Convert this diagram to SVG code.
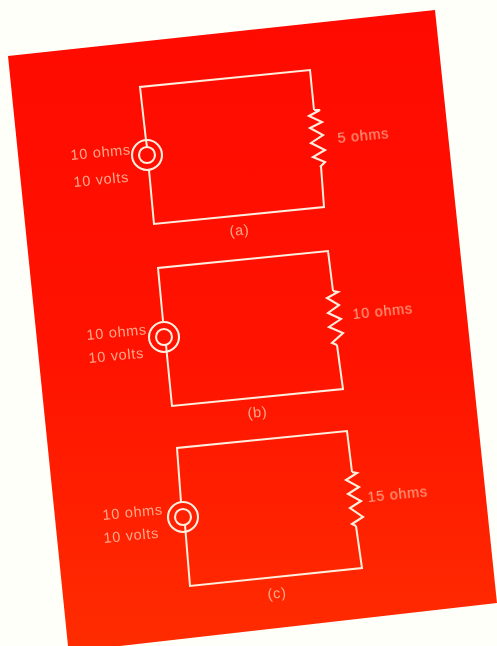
<svg xmlns="http://www.w3.org/2000/svg" width="497" height="646" viewBox="0 0 497 646">
<style>
.w{fill:none;stroke:#ffeedd;stroke-width:2;stroke-linejoin:miter}
.r{fill:none;stroke:#ffeedd;stroke-width:2.1}
.t{fill:#ffa88c;font-family:"Liberation Sans",Arial,sans-serif;font-size:14.5px;letter-spacing:.7px}
</style>
<defs>
<linearGradient id="g" x1="0" y1="0" x2="0" y2="1"><stop offset="0" stop-color="#ff0a00"/><stop offset=".55" stop-color="#ff1300"/><stop offset="1" stop-color="#ff2c00"/></linearGradient>
<filter id="b" x="-5%" y="-5%" width="110%" height="110%"><feGaussianBlur stdDeviation=".55"/></filter>
</defs>
<rect width="497" height="646" fill="#fffffa"/>
<polygon points="8,56 435,10 497,603 120,646 68,646" fill="url(#g)"/>
<g filter="url(#b)">
<g id="connectors">
<path class="w" d="M147,147 L146,140 L140,87 L310,70 L314,110 M321,166 L324,207 L154,224 L149,170"/>
<path class="w" d="M163,321 L158,268 L328,251 L333,291 M337,345 L343,389 L172,406 L166,345"/>
<path class="w" d="M181,502 L177,448 L347,431 L352,472 M356,526 L362,568 L190,586 L185,525"/>
</g>
<g id="source-a"><circle class="r" cx="147" cy="155" r="15"/><circle class="r" cx="147" cy="155" r="8"/></g>
<g id="source-b"><circle class="r" cx="164" cy="337" r="15"/><circle class="r" cx="164" cy="337" r="8"/></g>
<g id="source-c"><circle class="r" cx="183" cy="517" r="15"/><circle class="r" cx="183" cy="517" r="8"/></g>
<g id="resistor-a"><polyline class="r" points="314,110 320,110 309,116 322,122 310,128 323,135 311,143 325,150 313,157 325,162 320,167"/></g>
<g id="resistor-b"><polyline class="r" points="333,291 338,292 327,298 339,305 328,313 341,319 329,327 343,333 332,343 337,345"/></g>
<g id="resistor-c"><polyline class="r" points="352,472 357,473 346,480 359,487 348,494 361,501 350,508 363,517 352,524 356,526"/></g>
<g id="labels-a">
<text class="t" transform="translate(71,160) rotate(-5.5)">10 ohms</text>
<text class="t" transform="translate(74,187) rotate(-5.5)">10 volts</text>
<text class="t" transform="translate(338,143) rotate(-5.5)">5 ohms</text>
<text class="t" transform="translate(230,236) rotate(-5.5)">(a)</text>
</g>
<g id="labels-b">
<text class="t" transform="translate(87,340) rotate(-5.5)">10 ohms</text>
<text class="t" transform="translate(89,363) rotate(-5.5)">10 volts</text>
<text class="t" transform="translate(353,319) rotate(-5.5)">10 ohms</text>
<text class="t" transform="translate(248,418) rotate(-5.5)">(b)</text>
</g>
<g id="labels-c">
<text class="t" transform="translate(103,520) rotate(-5.5)">10 ohms</text>
<text class="t" transform="translate(104,543) rotate(-5.5)">10 volts</text>
<text class="t" transform="translate(368,502) rotate(-5.5)">15 ohms</text>
<text class="t" transform="translate(268,599) rotate(-5.5)">(c)</text>
</g>
</g>
</svg>
